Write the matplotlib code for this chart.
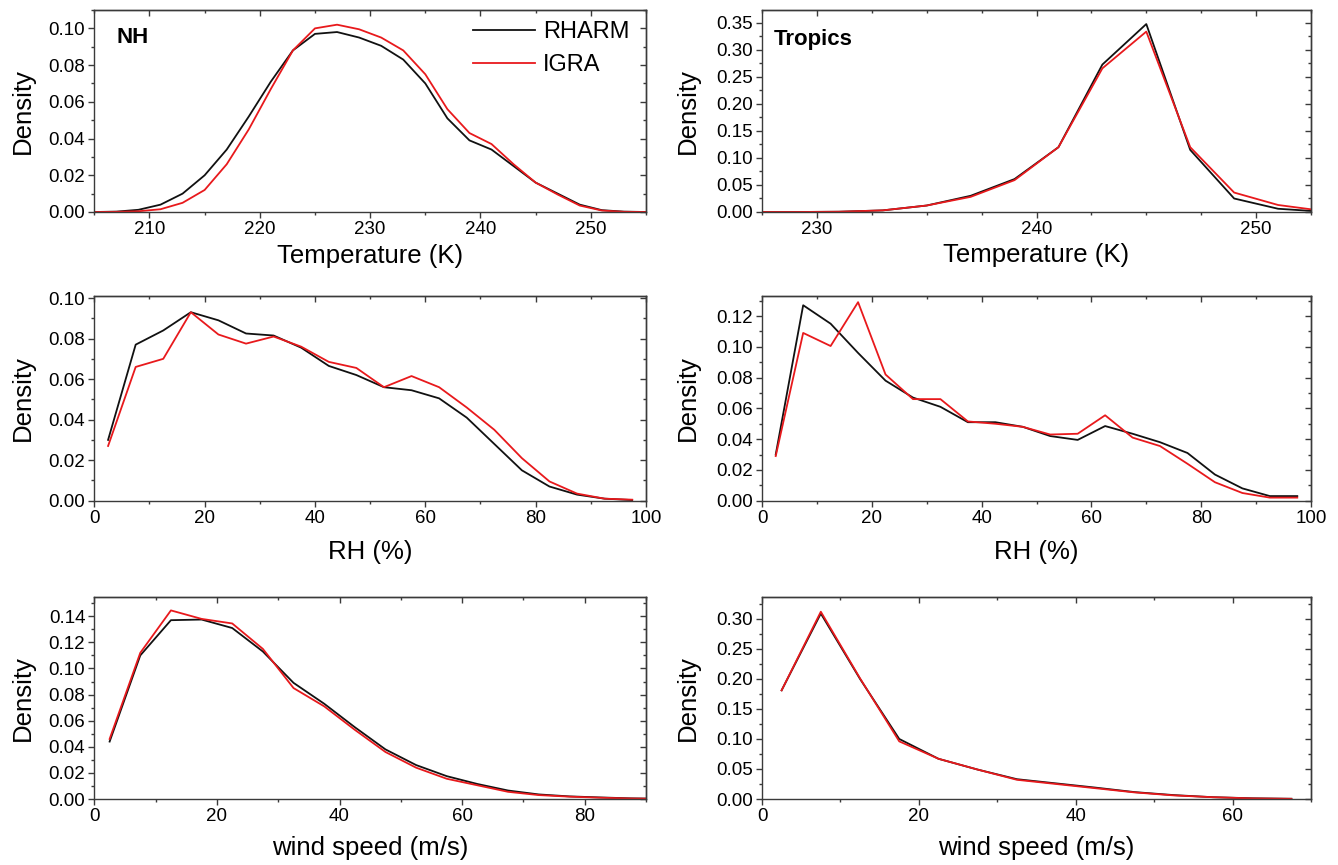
import matplotlib
matplotlib.use("Agg")
import matplotlib.pyplot as plt
from matplotlib.ticker import MultipleLocator, FormatStrFormatter

plt.rcParams["font.family"] = ["Liberation Sans", "DejaVu Sans"]

# ---- data ----
# NH temperature
nh_temp_x = [205, 207, 209, 211, 213, 215, 217, 219, 221, 223, 225, 227, 229,
             231, 233, 235, 237, 239, 241, 243, 245, 247, 249, 251, 253, 255]
nh_temp_rharm = [0, 0.0002, 0.0012, 0.004, 0.010, 0.020, 0.034, 0.052, 0.071,
                 0.088, 0.097, 0.098, 0.095, 0.0905, 0.083, 0.070, 0.051, 0.039,
                 0.034, 0.025, 0.016, 0.010, 0.004, 0.001, 0.0002, 0]
nh_temp_igra = [0, 0.0001, 0.0004, 0.0015, 0.005, 0.012, 0.026, 0.045, 0.067,
                0.088, 0.100, 0.102, 0.0995, 0.095, 0.088, 0.075, 0.056, 0.043,
                0.037, 0.026, 0.016, 0.0095, 0.0035, 0.0008, 0.0001, 0]

# Tropics temperature
tr_temp_x = [227, 229, 231, 233, 235, 237, 239, 241, 243, 245, 247, 249, 251, 253]
tr_temp_rharm = [0, 0, 0.0005, 0.003, 0.012, 0.030, 0.061, 0.120, 0.273, 0.348,
                 0.115, 0.025, 0.006, 0.0007]
tr_temp_igra = [0, 0, 0.0005, 0.003, 0.012, 0.028, 0.059, 0.120, 0.266, 0.334,
                0.120, 0.036, 0.013, 0.0023]

# RH bins
rh_x = [2.5, 7.5, 12.5, 17.5, 22.5, 27.5, 32.5, 37.5, 42.5, 47.5, 52.5, 57.5,
        62.5, 67.5, 72.5, 77.5, 82.5, 87.5, 92.5, 97.5]
nh_rh_rharm = [0.030, 0.077, 0.084, 0.093, 0.089, 0.0825, 0.0815, 0.0755, 0.0665,
               0.062, 0.056, 0.0545, 0.0505, 0.041, 0.028, 0.015, 0.007, 0.003,
               0.001, 0.0003]
nh_rh_igra = [0.027, 0.066, 0.070, 0.093, 0.082, 0.0775, 0.081, 0.076, 0.0685,
              0.0655, 0.056, 0.0615, 0.056, 0.046, 0.035, 0.021, 0.0095, 0.0035,
              0.001, 0.0005]
tr_rh_rharm = [0.030, 0.127, 0.115, 0.096, 0.078, 0.067, 0.061, 0.051, 0.051,
               0.048, 0.042, 0.0395, 0.0485, 0.0435, 0.038, 0.031, 0.017, 0.008,
               0.003, 0.003]
tr_rh_igra = [0.029, 0.109, 0.1005, 0.129, 0.082, 0.066, 0.066, 0.0515, 0.050,
              0.048, 0.043, 0.0435, 0.0555, 0.041, 0.0355, 0.024, 0.012, 0.005,
              0.002, 0.002]

# wind speed bins
nh_ws_x = [2.5, 7.5, 12.5, 17.5, 22.5, 27.5, 32.5, 37.5, 42.5, 47.5, 52.5, 57.5,
           62.5, 67.5, 72.5, 77.5, 82.5, 87.5, 92.5]
nh_ws_rharm = [0.044, 0.110, 0.137, 0.1375, 0.131, 0.113, 0.089, 0.073, 0.055,
               0.038, 0.026, 0.0175, 0.0115, 0.0065, 0.0035, 0.002, 0.0012,
               0.0005, 0.0002]
nh_ws_igra = [0.046, 0.112, 0.1445, 0.138, 0.1345, 0.115, 0.085, 0.071, 0.053,
              0.036, 0.024, 0.0155, 0.0105, 0.0055, 0.003, 0.0018, 0.001,
              0.0004, 0.0001]
tr_ws_x = [2.5, 7.5, 12.5, 17.5, 22.5, 27.5, 32.5, 37.5, 42.5, 47.5, 52.5, 57.5,
           62.5, 67.5]
tr_ws_rharm = [0.181, 0.309, 0.200, 0.100, 0.067, 0.049, 0.033, 0.026, 0.019,
               0.0115, 0.0065, 0.003, 0.0012, 0.0004]
tr_ws_igra = [0.181, 0.312, 0.201, 0.096, 0.067, 0.049, 0.032, 0.025, 0.018,
              0.011, 0.006, 0.003, 0.001, 0.0003]

BLACK = "#111111"
RED = "#e8191c"
SPINE = "#3a3a3a"

W, H = 1338, 865
fig = plt.figure(figsize=(W / 100, H / 100), dpi=100)

cols = [(94.3, 646), (762, 1311)]
rows = [(10, 212), (296, 500.7), (596.7, 799)]


def make_ax(r, c):
    x0, x1 = cols[c]
    y0, y1 = rows[r]
    return fig.add_axes([x0 / W, 1 - y1 / H, (x1 - x0) / W, (y1 - y0) / H])


def style(ax, xlim, ylim, xmaj, xmin, ymaj, ymin, yfmt, xlabel, xl_y):
    ax.set_xlim(*xlim)
    ax.set_ylim(*ylim)
    ax.xaxis.set_major_locator(MultipleLocator(xmaj))
    ax.xaxis.set_minor_locator(MultipleLocator(xmin))
    ax.yaxis.set_major_locator(MultipleLocator(ymaj))
    ax.yaxis.set_minor_locator(MultipleLocator(ymin))
    ax.yaxis.set_major_formatter(FormatStrFormatter(yfmt))
    ax.tick_params(which="both", direction="out", colors=SPINE, labelcolor="black",
                   labelsize=13.5, pad=2.5)
    ax.tick_params(which="major", length=4, width=1)
    ax.tick_params(which="minor", length=2.5, width=1)
    for s in ax.spines.values():
        s.set_color(SPINE)
        s.set_linewidth(1.0)
    # top / right ticks pointing inwards
    top = ax.secondary_xaxis("top")
    top.xaxis.set_major_locator(MultipleLocator(xmaj))
    top.xaxis.set_minor_locator(MultipleLocator(xmin))
    top.tick_params(which="both", direction="in", labeltop=False, colors=SPINE)
    top.tick_params(which="major", length=4, width=1)
    top.tick_params(which="minor", length=2.5, width=1)
    right = ax.secondary_yaxis("right")
    right.yaxis.set_major_locator(MultipleLocator(ymaj))
    right.yaxis.set_minor_locator(MultipleLocator(ymin))
    right.tick_params(which="both", direction="in", labelright=False, colors=SPINE)
    right.tick_params(which="major", length=4, width=1)
    right.tick_params(which="minor", length=2.5, width=1)
    for sa in (top, right):
        for s in sa.spines.values():
            s.set_color(SPINE)
            s.set_linewidth(1.0)
    ax.set_xlabel(xlabel, fontsize=18.5)
    ax.set_ylabel("Density", fontsize=18.5)
    ax.xaxis.set_label_coords(0.5, xl_y)


lw = 1.3

# row 1: temperature
ax = make_ax(0, 0)
ax.plot(nh_temp_x, nh_temp_rharm, color=BLACK, lw=lw, label="RHARM")
ax.plot(nh_temp_x, nh_temp_igra, color=RED, lw=lw, label="IGRA")
style(ax, (205, 255), (0, 0.11), 10, 5, 0.02, 0.01, "%.2f", "Temperature (K)", -0.16)
ax.yaxis.set_label_coords(-0.1075, 0.5)
ax.text(0.04, 0.865, "NH", transform=ax.transAxes, fontsize=16, fontweight="bold",
        va="center", ha="left")
ax.legend(loc="upper right", bbox_to_anchor=(1.0, 1.025), frameon=False, fontsize=17,
          handlelength=2.6, handletextpad=0.35, labelspacing=0.45, borderaxespad=0.3)

ax = make_ax(0, 1)
ax.plot(tr_temp_x, tr_temp_rharm, color=BLACK, lw=lw)
ax.plot(tr_temp_x, tr_temp_igra, color=RED, lw=lw)
style(ax, (227.5, 252.5), (0, 0.374), 10, 2.5, 0.05, 0.025, "%.2f", "Temperature (K)", -0.155)
ax.yaxis.set_label_coords(-0.113, 0.5)
ax.text(0.022, 0.855, "Tropics", transform=ax.transAxes, fontsize=16, fontweight="bold",
        va="center", ha="left")

# row 2: RH
ax = make_ax(1, 0)
ax.plot(rh_x, nh_rh_rharm, color=BLACK, lw=lw)
ax.plot(rh_x, nh_rh_igra, color=RED, lw=lw)
style(ax, (0, 100), (0, 0.101), 20, 10, 0.02, 0.01, "%.2f", "RH (%)", -0.19)
ax.yaxis.set_label_coords(-0.1075, 0.5)

ax = make_ax(1, 1)
ax.plot(rh_x, tr_rh_rharm, color=BLACK, lw=lw)
ax.plot(rh_x, tr_rh_igra, color=RED, lw=lw)
style(ax, (0, 100), (0, 0.133), 20, 10, 0.02, 0.01, "%.2f", "RH (%)", -0.19)
ax.yaxis.set_label_coords(-0.113, 0.5)

# row 3: wind speed
ax = make_ax(2, 0)
ax.plot(nh_ws_x, nh_ws_rharm, color=BLACK, lw=lw)
ax.plot(nh_ws_x, nh_ws_igra, color=RED, lw=lw)
style(ax, (0, 90), (0, 0.155), 20, 10, 0.02, 0.01, "%.2f", "wind speed (m/s)", -0.185)
ax.yaxis.set_label_coords(-0.1075, 0.5)

ax = make_ax(2, 1)
ax.plot(tr_ws_x, tr_ws_rharm, color=BLACK, lw=lw)
ax.plot(tr_ws_x, tr_ws_igra, color=RED, lw=lw)
style(ax, (0, 70), (0, 0.337), 20, 10, 0.05, 0.025, "%.2f", "wind speed (m/s)", -0.185)
ax.yaxis.set_label_coords(-0.113, 0.5)

fig.savefig("out.png", dpi=100)
